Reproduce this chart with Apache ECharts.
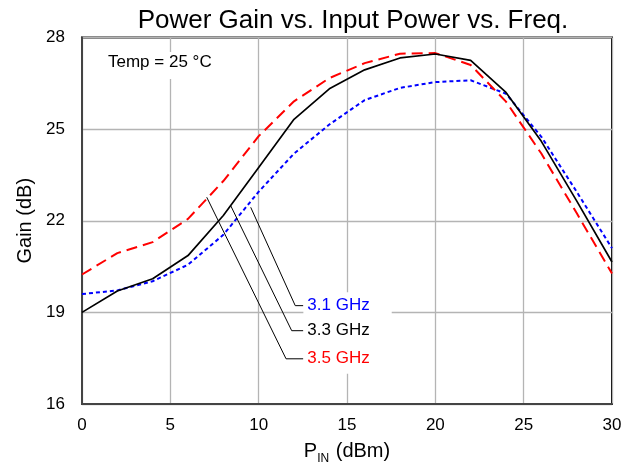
<!DOCTYPE html>
<html>
<head>
<meta charset="utf-8">
<script src="https://cdn.jsdelivr.net/npm/echarts@6/dist/echarts.min.js"></script>
<style>html,body{margin:0;padding:0;background:#fff}#c{width:637px;height:470px}</style>
</head>
<body>
<div id="c"></div>
<script>
// Input power (dBm)
var pin = [0, 2, 4, 6, 8, 10, 12, 14, 16, 18, 20, 22, 24, 26, 28, 30];
// Gain (dB) per frequency
var gain31 = [19.6, 19.72, 20.02, 20.56, 21.54, 22.95, 24.2, 25.15, 25.95, 26.35, 26.54, 26.6, 26.16, 24.75, 22.95, 21.1];
var gain33 = [19.0, 19.7, 20.1, 20.86, 22.17, 23.74, 25.32, 26.32, 26.94, 27.33, 27.46, 27.25, 26.2, 24.6, 22.65, 20.65];
var gain35 = [20.24, 20.94, 21.3, 22.06, 23.3, 24.77, 25.91, 26.67, 27.16, 27.47, 27.49, 27.1, 25.9, 24.2, 22.25, 20.27];
// Series names
var names = ['3.1 GHz', '3.3 GHz', '3.5 GHz'];
// Leader lines for the curve labels (data coordinates)
var lead31 = [[9.55, 22.44], [12.07, 19.22], [12.53, 19.22]];
var lead33 = [[8.42, 22.49], [11.87, 18.4], [12.53, 18.4]];
var lead35 = [[7.06, 22.77], [11.55, 17.48], [12.53, 17.48]];
// Axis ranges
var xMin = 0, xMax = 30, xStep = 5;
var yMin = 16, yMax = 28, yStep = 3;

var FONT = 'Liberation Sans, Arial, sans-serif';
function pairs(xs, ys) { return xs.map(function (x, i) { return [x, ys[i]]; }); }

function leader(data, name, color, padBottom) {
  return {
    type: 'line', data: data, symbol: 'none', silent: true, z: 5,
    lineStyle: { color: '#000', width: 1 },
    endLabel: {
      show: true, formatter: name, color: color, fontFamily: FONT, fontSize: 17,
      lineHeight: 17, distance: 0, backgroundColor: '#fff',
      padding: [5, 22, padBottom, 4]
    }
  };
}

var chart = echarts.init(document.getElementById('c'), null, { renderer: 'canvas' });
chart.setOption({
  animation: false,
  backgroundColor: '#fff',
  title: [
    { text: 'Power Gain vs. Input Power vs. Freq.', left: 348, textAlign: 'center', top: 3,
      textStyle: { fontFamily: FONT, fontSize: 26, fontWeight: 'normal', color: '#000' } },
    { text: 'Temp = 25 °C', left: 104, top: 52, padding: [2, 4, 8, 4], backgroundColor: '#fff', z: 10,
      textStyle: { fontFamily: FONT, fontSize: 17, fontWeight: 'normal', color: '#000' } }
  ],
  grid: { left: 82, right: 25, top: 37.5, bottom: 64, show: true, borderColor: '#000', borderWidth: 2, backgroundColor: 'transparent' },
  xAxis: {
    type: 'value', min: xMin, max: xMax, interval: xStep,
    name: '{m|P}{s|IN}{m| (dBm)}', nameLocation: 'middle', nameGap: 37,
    nameTextStyle: {
      rich: {
        m: { fontFamily: FONT, fontSize: 20, lineHeight: 20, color: '#000', verticalAlign: 'top' },
        s: { fontFamily: FONT, fontSize: 12, lineHeight: 12, color: '#000', verticalAlign: 'top', padding: [12, 1, 0, 0] }
      }
    },
    axisLine: { show: true, onZero: false, lineStyle: { color: '#444', width: 2 } },
    axisTick: { show: false },
    axisLabel: { color: '#000', fontFamily: FONT, fontSize: 17, margin: 13 },
    splitLine: { show: true, lineStyle: { color: '#b4b4b4', width: 1.3 } }
  },
  yAxis: {
    type: 'value', min: yMin, max: yMax, interval: yStep,
    name: 'Gain (dB)', nameLocation: 'middle', nameGap: 44,
    nameTextStyle: { fontFamily: FONT, fontSize: 20, color: '#000' },
    axisLine: { show: true, onZero: false, lineStyle: { color: '#444', width: 2 } },
    axisTick: { show: false },
    axisLabel: { color: '#000', fontFamily: FONT, fontSize: 17, margin: 17 },
    splitLine: { show: true, lineStyle: { color: '#b4b4b4', width: 1.3 } }
  },
  series: [
    { name: names[0], type: 'line', data: pairs(pin, gain31), symbol: 'none', z: 3,
      lineStyle: { color: '#0000ff', width: 2, type: [4, 3] } },
    { name: names[2], type: 'line', data: pairs(pin, gain35), symbol: 'none', z: 3,
      lineStyle: { color: '#ff0000', width: 2, type: [11, 6] } },
    { name: names[1], type: 'line', data: pairs(pin, gain33), symbol: 'none', z: 4,
      lineStyle: { color: '#000', width: 1.7 } },
    leader(lead31, names[0], '#0000ff', 5),
    leader(lead33, names[1], '#000', 5),
    leader(lead35, names[2], '#ff0000', 8)
  ]
});
</script>
</body>
</html>
